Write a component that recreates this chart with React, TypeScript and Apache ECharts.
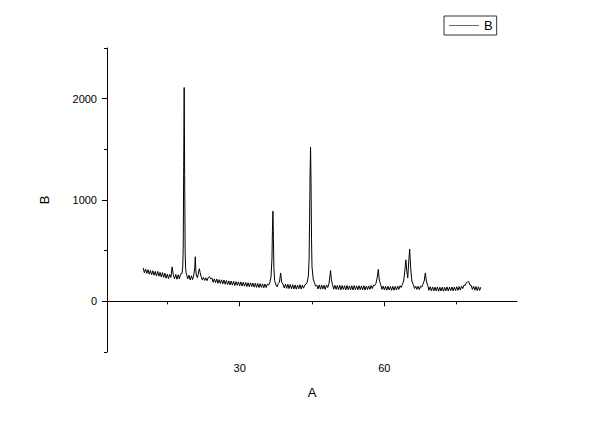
import React, { useEffect, useRef } from "react";
import * as echarts from "echarts";

// XRD scan: [2θ, counts]
const scanLow: [number, number][] = [
  [10.0, 330], [10.25, 282], [10.5, 318], [10.75, 276], [11.0, 312], [11.25, 268], [11.5, 305], [11.75, 262],
  [12.0, 302], [12.25, 258], [12.5, 295], [12.75, 250], [13.0, 296], [13.25, 248], [13.5, 286], [13.75, 240],
  [14.0, 284], [14.25, 236], [14.5, 278], [14.75, 228], [15.0, 268], [15.25, 224], [15.5, 266], [15.75, 236],
  [16.0, 340], [16.25, 262], [16.5, 222], [16.75, 266], [17.0, 218], [17.25, 262], [17.5, 222], [17.75, 268],
  [18.0, 270], [18.1, 290], [18.2, 340], [18.3, 520], [18.4, 1320], [18.5, 2110], [18.6, 1240], [18.7, 480],
  [18.8, 330], [18.9, 285], [19.0, 262], [19.25, 222], [19.5, 258], [19.75, 210], [20.0, 252], [20.25, 214],
  [20.5, 262], [20.7, 330], [20.8, 440], [20.9, 320], [21.0, 260], [21.25, 232], [21.5, 290], [21.65, 322],
  [21.8, 285], [22.0, 248], [22.25, 212], [22.5, 236], [22.75, 206], [23.0, 232], [23.25, 204], [23.5, 236],
  [23.75, 244], [24.0, 222], [24.25, 230], [24.5, 188], [24.75, 222], [25.0, 184], [25.25, 220], [25.5, 178],
  [25.75, 214], [26.0, 176], [26.25, 212], [26.5, 172], [26.75, 210], [27.0, 168], [27.25, 206], [27.5, 166],
  [27.75, 202], [28.0, 162], [28.25, 200], [28.5, 160], [28.75, 198], [29.0, 156], [29.25, 194], [29.5, 158],
  [29.75, 192],
];

const scanMid: [number, number][] = [
  [30.0, 154], [30.25, 192], [30.5, 152], [30.75, 188], [31.0, 150], [31.25, 186], [31.5, 146], [31.75, 184],
  [32.0, 144], [32.25, 182], [32.5, 146], [32.75, 180], [33.0, 140], [33.25, 178], [33.5, 138], [33.75, 176],
  [34.0, 136], [34.25, 174], [34.5, 138], [34.75, 172], [35.0, 134], [35.25, 170], [35.5, 136], [35.75, 170],
  [36.0, 160], [36.25, 184], [36.5, 240], [36.7, 420], [36.8, 700], [36.9, 890], [37.0, 620], [37.1, 330],
  [37.25, 205], [37.5, 164], [37.75, 144], [38.0, 176], [38.25, 190], [38.5, 280], [38.7, 190], [39.0, 168],
  [39.25, 132], [39.5, 170], [39.75, 128], [40.0, 168], [40.25, 126], [40.5, 166], [40.75, 124], [41.0, 164],
  [41.25, 122], [41.5, 162], [41.75, 120], [42.0, 160], [42.25, 124], [42.5, 164], [42.75, 122], [43.0, 160],
  [43.25, 130], [43.5, 162], [43.75, 168], [44.0, 190], [44.25, 250], [44.4, 420], [44.5, 800], [44.6, 1250],
  [44.7, 1520], [44.8, 1180], [44.9, 620], [45.0, 340], [45.25, 220], [45.5, 184], [45.75, 150], [46.0, 160],
  [46.25, 122], [46.5, 162], [46.75, 120], [47.0, 160], [47.25, 122], [47.5, 158], [47.75, 118], [48.0, 162],
  [48.25, 136], [48.5, 170], [48.7, 240], [48.85, 305], [49.0, 220], [49.25, 164], [49.5, 120], [49.75, 158],
  [50.0, 118], [50.25, 156], [50.5, 116], [50.75, 158], [51.0, 114], [51.25, 156], [51.5, 118], [51.75, 154],
  [52.0, 112], [52.25, 156], [52.5, 116], [52.75, 152], [53.0, 114], [53.25, 154], [53.5, 112], [53.75, 156],
  [54.0, 116], [54.25, 152], [54.5, 114], [54.75, 154],
];

const scanHigh: [number, number][] = [
  [55.0, 116], [55.25, 152], [55.5, 114], [55.75, 154], [56.0, 112], [56.25, 150], [56.5, 116], [56.75, 152],
  [57.0, 118], [57.25, 156], [57.5, 126], [57.75, 160], [58.0, 156], [58.25, 176], [58.5, 230], [58.75, 315],
  [58.95, 210], [59.25, 164], [59.5, 118], [59.75, 150], [60.0, 112], [60.25, 150], [60.5, 110], [60.75, 148],
  [61.0, 112], [61.25, 146], [61.5, 108], [61.75, 148], [62.0, 110], [62.25, 146], [62.5, 112], [62.75, 150],
  [63.0, 118], [63.25, 154], [63.5, 136], [63.75, 168], [64.0, 200], [64.25, 300], [64.45, 410], [64.65, 300],
  [64.85, 230], [65.05, 390], [65.25, 515], [65.45, 330], [65.7, 200], [66.0, 166], [66.25, 126], [66.5, 150],
  [66.75, 118], [67.0, 148], [67.25, 116], [67.5, 150], [67.75, 140], [68.0, 170], [68.25, 200], [68.5, 280],
  [68.7, 200], [69.0, 156], [69.25, 108], [69.5, 144], [69.75, 104], [70.0, 142], [70.25, 102], [70.5, 140],
  [70.75, 104], [71.0, 142], [71.25, 100], [71.5, 138], [71.75, 102], [72.0, 140], [72.25, 100], [72.5, 138],
  [72.75, 104], [73.0, 142], [73.25, 102], [73.5, 140], [73.75, 106], [74.0, 142], [74.25, 104], [74.5, 140],
  [74.75, 106], [75.0, 144], [75.25, 108], [75.5, 146], [75.75, 112], [76.0, 150], [76.25, 126], [76.5, 160],
  [76.75, 156], [77.0, 184], [77.25, 192], [77.5, 194], [77.75, 160], [78.0, 158], [78.25, 118], [78.5, 150],
  [78.75, 110], [79.0, 146], [79.25, 106], [79.5, 144], [79.75, 108], [80.0, 140],
];

const xMinorTicks = [15, 30, 45, 60, 75];
const xMajorTicks = [30, 60];
const yMajorTicks = [0, 1000, 2000];

const FONT = "'Liberation Sans', Arial, sans-serif";

export default function App() {
  const ref = useRef<HTMLDivElement>(null);

  useEffect(() => {
    if (!ref.current) return;
    const chart = echarts.init(ref.current, undefined, { renderer: "svg" });
    const data = [...scanLow, ...scanMid, ...scanHigh];
    const axisLine = { show: true, lineStyle: { color: "#000", width: 1 } };
    const plain = (v: number) => String(v);
    chart.setOption({
      animation: false,
      backgroundColor: "#fff",
      textStyle: { fontFamily: FONT },
      grid: { left: 107, right: 83, top: 48, bottom: 71, containLabel: false },
      legend: {
        left: 444,
        top: 16,
        padding: [3, 4, 3, 5],
        itemWidth: 30,
        itemHeight: 14,
        borderColor: "#333",
        borderWidth: 1,
        borderRadius: 0,
        data: [{ name: "B", icon: "path://M0,0 L30,0 L30,1 L0,1 Z" }],
        itemStyle: { color: "#666" },
        textStyle: { fontSize: 13, color: "#000", fontFamily: FONT },
      },
      xAxis: [
        {
          type: "value",
          min: 2.5,
          max: 87.5,
          position: "bottom",
          name: "A",
          nameLocation: "middle",
          nameGap: 34,
          nameTextStyle: { fontSize: 13, color: "#000", fontFamily: FONT },
          axisLine,
          axisTick: { show: true, length: 3, customValues: xMinorTicks, lineStyle: { color: "#000" } },
          axisLabel: { show: false },
          splitLine: { show: false },
        },
        {
          type: "value",
          min: 2.5,
          max: 87.5,
          position: "bottom",
          axisLine: { show: false },
          axisTick: { show: true, length: 5, customValues: xMajorTicks, lineStyle: { color: "#000" } },
          axisLabel: {
            show: true,
            customValues: xMajorTicks,
            formatter: plain,
            margin: 10,
            fontSize: 11,
            color: "#000",
            fontFamily: FONT,
          },
          splitLine: { show: false },
        },
      ],
      yAxis: [
        {
          type: "value",
          min: -500,
          max: 2500,
          interval: 500,
          position: "left",
          name: "B",
          nameLocation: "middle",
          nameGap: 56,
          nameTextStyle: { fontSize: 13, color: "#000", fontFamily: FONT },
          axisLine,
          axisTick: { show: true, length: 3, lineStyle: { color: "#000" } },
          axisLabel: { show: false },
          splitLine: { show: false },
        },
        {
          type: "value",
          min: -500,
          max: 2500,
          position: "left",
          axisLine: { show: false },
          axisTick: { show: true, length: 5, customValues: yMajorTicks, lineStyle: { color: "#000" } },
          axisLabel: {
            show: true,
            customValues: yMajorTicks,
            formatter: plain,
            margin: 10,
            fontSize: 11,
            color: "#000",
            fontFamily: FONT,
          },
          splitLine: { show: false },
        },
      ],
      series: [
        {
          name: "B",
          type: "line",
          xAxisIndex: 0,
          yAxisIndex: 0,
          data,
          symbol: "none",
          showSymbol: false,
          lineStyle: { color: "#000", width: 1 },
          itemStyle: { color: "#000" },
        },
      ],
    });
    return () => chart.dispose();
  }, []);

  return (
    <div
      ref={ref}
      style={{ position: "fixed", left: 0, top: 0, width: 600, height: 423, background: "#fff" }}
    />
  );
}
